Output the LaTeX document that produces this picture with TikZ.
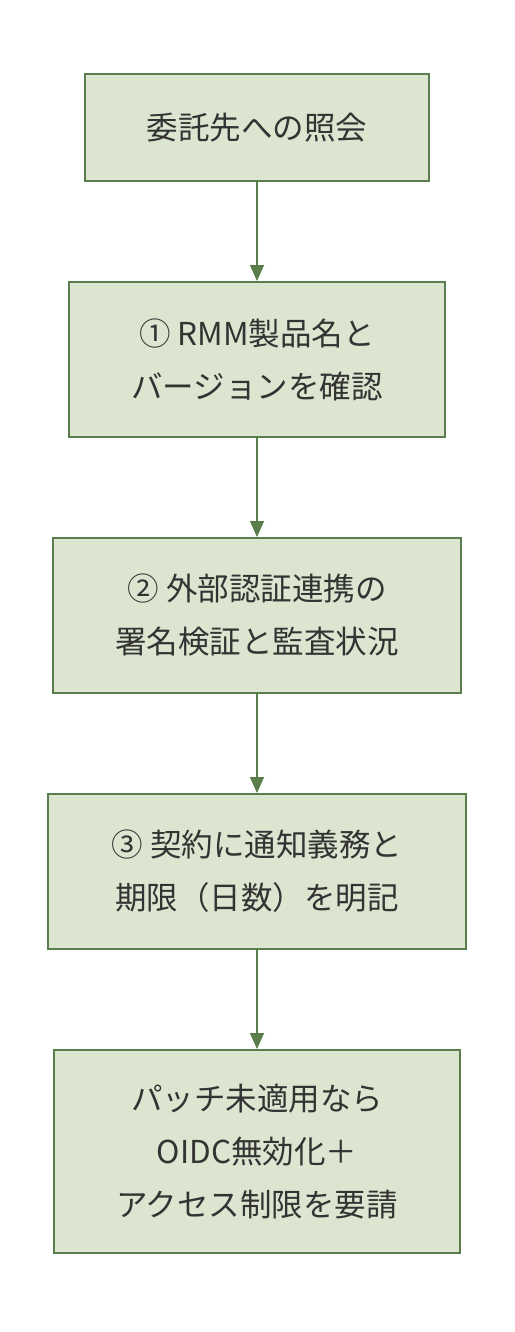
\documentclass[tikz,border=0pt]{standalone}
\usepackage{fontspec}
\setmainfont{Noto Sans CJK JP}
\usetikzlibrary{positioning,arrows.meta}

\definecolor{boxfill}{HTML}{DCE5CF}
\definecolor{boxline}{HTML}{5A7D4C}
\definecolor{textgray}{HTML}{333333}

\tikzstyle{stepbox} = [rectangle, draw=boxline, fill=boxfill, line width=2pt, align=center, text=textgray, font=\fontsize{31.5}{53}\selectfont]
\tikzstyle{flow} = [draw=boxline, line width=1.5pt, -{Triangle[width=14pt,length=16pt]}]

\begin{document}
\begin{tikzpicture}[x=1pt,y=-1pt]
        \tikzset{node distance = 99pt}
        \useasboundingbox (0,0) rectangle (514,1332);
        % Steps, top to bottom
        \node (inquiry) at (257,127.5) [stepbox, minimum width=344pt, minimum height=107pt] {委託先への照会};
        \node (version) [stepbox, below=of inquiry, minimum width=376pt, minimum height=155pt] {① RMM製品名と\\バージョンを確認};
        \node (oidc) [stepbox, below=of version, minimum width=408pt, minimum height=155pt] {② 外部認証連携の\\署名検証と監査状況};
        \node (contract) [stepbox, below=of oidc, minimum width=418pt, minimum height=155pt] {③ 契約に通知義務と\\期限（日数）を明記};
        \node (request) [stepbox, below=of contract, minimum width=406pt, minimum height=203pt] {パッチ未適用なら\\OIDC無効化＋\\アクセス制限を要請};
        % Connectors
        \draw[flow] (inquiry) -- (version);
        \draw[flow] (version) -- (oidc);
        \draw[flow] (oidc) -- (contract);
        \draw[flow] (contract) -- (request);
    \end{tikzpicture}
\end{document}
